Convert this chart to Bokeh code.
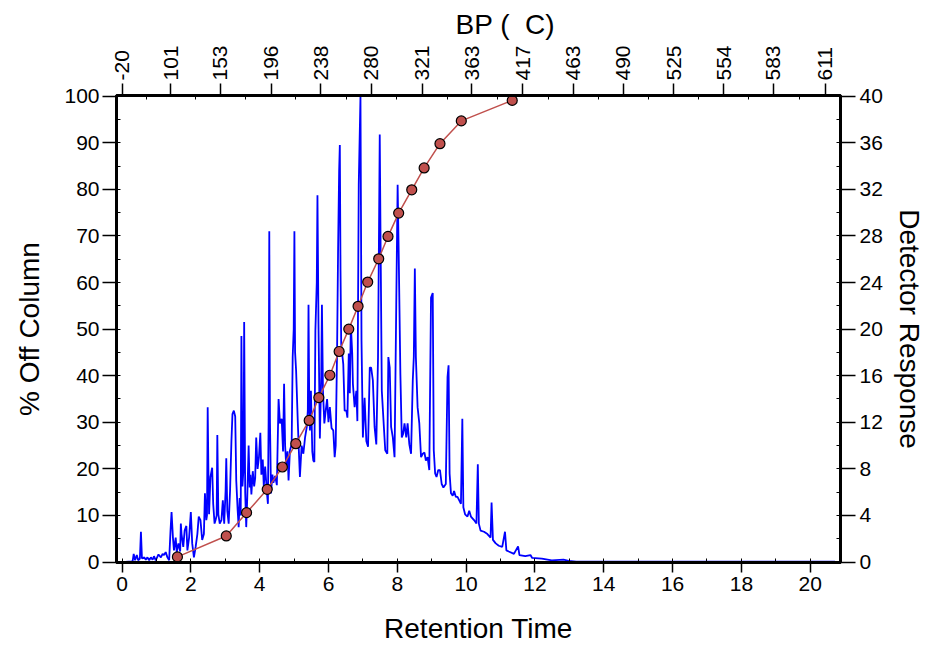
from bokeh.plotting import figure
from bokeh.models import Range1d, LinearAxis, FixedTicker, SingleIntervalTicker, Title
from bokeh.embed import file_html
from bokeh.resources import INLINE

# ---- data ----
rt_time = [0.00, 0.28, 0.31, 0.34, 0.38, 0.43, 0.47, 0.52, 0.55, 0.58, 0.65, 0.69, 0.74, 0.79, 0.84,
           0.89, 0.93, 0.98, 1.06, 1.13, 1.18, 1.22, 1.27, 1.32, 1.37, 1.41, 1.44, 1.48, 1.51, 1.56,
           1.59, 1.64, 1.69, 1.71, 1.73, 1.78, 1.82, 1.87, 1.90, 1.95, 2.00, 2.04, 2.09, 2.14, 2.19,
           2.23, 2.28, 2.33, 2.38, 2.41, 2.45, 2.47, 2.49, 2.51, 2.53, 2.57, 2.62, 2.65, 2.69, 2.72,
           2.75, 2.77, 2.80, 2.84, 2.89, 2.93, 2.97, 3.01, 3.03, 3.06, 3.10, 3.14, 3.18, 3.21, 3.25,
           3.29, 3.32, 3.36, 3.39, 3.42, 3.45, 3.47, 3.50, 3.53, 3.55, 3.58, 3.61, 3.64, 3.68, 3.71,
           3.73, 3.76, 3.80, 3.84, 3.87, 3.90, 3.94, 3.98, 4.02, 4.05, 4.09, 4.12, 4.16, 4.21, 4.24,
           4.26, 4.28, 4.30, 4.33, 4.37, 4.40, 4.45, 4.50, 4.55, 4.59, 4.64, 4.68, 4.71, 4.74, 4.77,
           4.81, 4.84, 4.88, 4.93, 4.96, 4.99, 5.01, 5.03, 5.06, 5.11, 5.14, 5.17, 5.22, 5.27, 5.32,
           5.37, 5.40, 5.42, 5.44, 5.46, 5.49, 5.53, 5.56, 5.59, 5.62, 5.66, 5.68, 5.71, 5.75, 5.79,
           5.81, 5.84, 5.88, 5.92, 5.96, 6.00, 6.04, 6.09, 6.14, 6.18, 6.21, 6.25, 6.28, 6.31, 6.33,
           6.35, 6.37, 6.43, 6.47, 6.52, 6.55, 6.59, 6.62, 6.65, 6.69, 6.71, 6.76, 6.81, 6.84, 6.88,
           6.93, 6.96, 7.00, 7.05, 7.10, 7.15, 7.20, 7.24, 7.29, 7.34, 7.39, 7.44, 7.47, 7.49, 7.51,
           7.55, 7.61, 7.65, 7.71, 7.74, 7.78, 7.82, 7.87, 7.92, 7.97, 8.01, 8.04, 8.09, 8.13, 8.17,
           8.21, 8.26, 8.30, 8.35, 8.40, 8.45, 8.48, 8.51, 8.54, 8.59, 8.64, 8.69, 8.74, 8.79, 8.83,
           8.88, 8.93, 8.98, 9.03, 9.06, 9.10, 9.14, 9.19, 9.24, 9.29, 9.34, 9.41, 9.46, 9.49, 9.52,
           9.56, 9.61, 9.65, 9.70, 9.75, 9.80, 9.85, 9.89, 9.92, 9.97, 10.04, 10.09, 10.14, 10.23, 10.30,
           10.34, 10.37, 10.42, 10.52, 10.62, 10.71, 10.74, 10.78, 10.86, 10.95, 11.05, 11.13, 11.17, 11.24, 11.39,
           11.51, 11.55, 11.72, 11.87, 11.92, 12.20, 12.49, 12.83, 12.98, 13.20, 20.72]
response = [0.0, 0.05, 0.1, 0.7, 0.15, 0.6, 0.15, 0.3, 2.6, 0.3, 0.4, 0.2, 0.4, 0.15, 0.4,
            0.2, 0.5, 0.15, 0.65, 0.4, 0.7, 0.6, 0.85, 0.4, 0.15, 2.7, 4.3, 2.1, 1.0, 2.1,
            0.85, 1.6, 0.9, 3.3, 2.4, 1.3, 2.7, 3.1, 1.0, 2.1, 4.3, 1.6, 0.4, 1.3, 2.4,
            3.9, 3.6, 1.9, 2.4, 5.9, 3.6, 4.0, 13.3, 8.0, 4.1, 7.3, 8.1, 5.0, 3.3, 3.6,
            4.0, 10.9, 4.1, 3.3, 3.6, 5.3, 3.3, 6.1, 8.9, 4.4, 3.3, 6.1, 10.4, 12.7, 13.0,
            12.5, 7.0, 4.5, 3.0, 5.5, 4.0, 19.4, 6.5, 8.0, 20.6, 6.0, 3.0, 5.5, 10.0, 6.4,
            7.5, 5.8, 7.8, 6.5, 7.2, 10.7, 8.0, 9.0, 11.1, 7.5, 8.8, 6.5, 8.2, 6.0, 5.0,
            12.0, 28.4, 12.0, 5.9, 7.5, 6.8, 7.4, 6.6, 14.0, 11.9, 12.3, 9.5, 15.3, 10.0, 8.4,
            9.5, 7.0, 9.6, 10.1, 17.6, 20.0, 28.4, 18.0, 16.4, 11.9, 9.5, 7.3, 10.0, 9.3, 10.7,
            11.6, 13.0, 22.1, 14.0, 11.3, 14.7, 9.5, 8.7, 8.6, 19.9, 24.0, 31.5, 20.4, 10.6, 16.0,
            22.1, 14.7, 11.9, 13.0, 14.0, 12.0, 13.3, 11.5, 11.3, 9.0, 10.0, 18.1, 27.0, 33.6, 35.8,
            25.0, 18.7, 17.0, 13.0, 13.0, 12.4, 17.9, 14.5, 20.4, 17.9, 15.3, 13.3, 14.7, 12.1, 32.4,
            40.0, 19.0, 10.7, 14.1, 10.4, 9.9, 16.7, 16.7, 15.6, 11.6, 10.1, 17.6, 29.0, 36.7, 29.0,
            14.7, 11.6, 9.6, 9.3, 17.6, 16.7, 11.6, 10.7, 9.0, 22.1, 32.4, 26.7, 16.1, 10.7, 11.0,
            11.9, 10.7, 11.9, 10.1, 9.3, 15.6, 17.6, 25.2, 17.6, 13.3, 11.9, 9.0, 9.3, 9.4, 8.7,
            9.0, 7.9, 22.7, 23.1, 9.6, 7.6, 7.3, 7.9, 7.9, 6.7, 6.4, 6.7, 15.9, 16.9, 7.6,
            5.9, 5.7, 6.1, 5.6, 5.6, 5.3, 5.0, 12.3, 4.7, 4.1, 3.9, 4.4, 3.9, 3.6, 3.3,
            8.4, 3.3, 2.7, 2.6, 2.4, 2.1, 5.1, 1.9, 1.6, 1.4, 1.3, 2.6, 1.0, 0.9, 0.7,
            1.35, 0.6, 0.5, 0.6, 0.35, 0.3, 0.15, 0.2, 0.1, 0.03, 0.03]

dot_time = [1.61, 3.03, 3.62, 4.22, 4.66, 5.05, 5.44, 5.72, 6.04, 6.31, 6.59,
            6.86, 7.14, 7.46, 7.73, 8.04, 8.42, 8.78, 9.24, 9.86, 11.34]
pct_off = [1.1, 5.6, 10.6, 15.6, 20.4, 25.4, 30.4, 35.3, 40.1, 45.2, 50.0,
           54.9, 60.1, 65.1, 69.9, 74.9, 79.9, 84.6, 89.8, 94.7, 99.1]

bp_tick_time = [0.0, 1.42, 2.86, 4.33, 5.78, 7.25, 8.72, 10.17, 11.64,
                13.12, 14.57, 16.03, 17.49, 18.93, 20.43]
bp_labels = ["-20", "101", "153", "196", "238", "280", "321", "363", "417",
             "463", "490", "525", "554", "583", "611"]

FONT = "Liberation Sans"

p = figure(width=927, height=646, output_backend="svg", toolbar_location=None,
           x_range=Range1d(-0.16, 20.88), y_range=Range1d(-0.1, 100.15),
           min_border_left=116, min_border_right=84, min_border_top=95, min_border_bottom=84,
           x_axis_label="Retention Time", y_axis_label="% Off Column")
p.extra_y_ranges = {"det": Range1d(-0.04, 40.06)}
p.grid.visible = False
p.outline_line_color = "black"
p.outline_line_width = 3

right = LinearAxis(y_range_name="det", axis_label="Detector Response",
                   ticker=SingleIntervalTicker(interval=4, num_minor_ticks=2))
p.add_layout(right, "right")

mids = [(a + b) / 2 for a, b in zip(bp_tick_time[:-1], bp_tick_time[1:])]
top = LinearAxis(ticker=FixedTicker(ticks=bp_tick_time, minor_ticks=mids))
top.major_label_overrides = {t: l for t, l in zip(bp_tick_time, bp_labels)}
top.major_label_orientation = "vertical"
p.add_layout(top, "above")

bp_title = Title(text="BP (\u00a0\u00a0C)", align="left", offset=339, standoff=6,
                 text_font="Liberation Sans", text_font_size="28px",
                 text_font_style="normal", text_color="black")
p.add_layout(bp_title, "above")

bottom = p.below[0]
left = p.left[0]
bottom.ticker = SingleIntervalTicker(interval=2, num_minor_ticks=2)
left.ticker = SingleIntervalTicker(interval=10, num_minor_ticks=2)

for ax in [bottom, left, right, top]:
    ax.axis_line_width = 3
    ax.axis_line_color = "black"
    ax.major_tick_line_width = 1.5
    ax.major_tick_line_color = "black"
    ax.minor_tick_line_width = 1
    ax.minor_tick_line_color = "black"
    ax.major_tick_in = 0
    ax.major_tick_out = 14
    ax.minor_tick_in = 4
    ax.minor_tick_out = 0
    ax.major_label_text_font = FONT
    ax.major_label_text_font_size = "21px"
    ax.major_label_text_color = "black"
    ax.axis_label_text_font = FONT
    ax.axis_label_text_font_size = "28px"
    ax.axis_label_text_font_style = "normal"
    ax.axis_label_text_color = "black"
    ax.major_label_standoff = 3
bottom.major_tick_out = 10
bottom.major_label_standoff = 4
top.major_tick_out = 12
right.major_tick_out = 15
right.major_label_standoff = 4
left.axis_label_standoff = 16
right.axis_label_standoff = 8
bottom.axis_label_standoff = 19

p.line(rt_time, response, y_range_name="det", line_color="#0000FF", line_width=1.8)
p.line(dot_time, pct_off, line_color="#C0504D", line_width=1.5)
p.scatter(dot_time, pct_off, size=10, fill_color="#C0504D", line_color="black", line_width=1.2)

open("out.html", "w").write(file_html(p, INLINE))
